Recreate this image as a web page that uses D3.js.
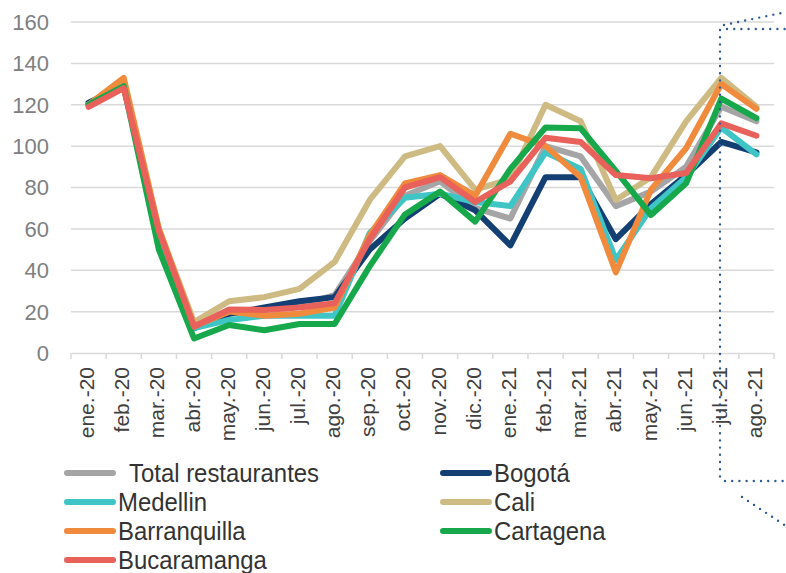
<!DOCTYPE html>
<html>
<head>
<meta charset="utf-8">
<script src="https://cdn.jsdelivr.net/npm/d3@7"></script>
<style>
  html, body { margin: 0; padding: 0; background: #fff; }
  svg { display: block; }
</style>
</head>
<body>
<svg id="chart" width="786" height="573"></svg>
<script>
// categories
var months = ["ene.-20", "feb.-20", "mar.-20", "abr.-20", "may.-20", "jun.-20", "jul.-20", "ago.-20",
  "sep.-20", "oct.-20", "nov.-20", "dic.-20", "ene.-21", "feb.-21", "mar.-21", "abr.-21",
  "may.-21", "jun.-21", "jul.-21", "ago.-21"];

// series values (index)
var total = [120, 129, 58, 12, 19, 21, 23, 28, 54, 76, 83, 70, 65, 100, 95, 71, 78, 90, 119, 112];
var bogota = [121, 129, 58, 12, 19, 22, 25, 27, 50, 65, 77, 69, 52, 85, 85, 55, 72, 86, 102, 97];
var medellin = [120, 129, 58, 12, 16, 18, 18, 18, 58, 75, 77, 73, 71, 97, 89, 45, 70, 85, 109, 96];
var cali = [120, 130, 60, 15, 25, 27, 31, 44, 74, 95, 100, 79, 84, 120, 112, 74, 85, 112, 133, 119];
var barranquilla = [120, 133, 60, 13, 20, 18, 19, 22, 57, 82, 86, 76, 106, 100, 85, 39, 79, 99, 130, 118];
var cartagena = [120, 129, 50, 7, 13.5, 11, 14, 14, 42, 67, 78, 63.5, 89, 109, 108.6, 88, 66.7, 82, 123, 113.5];
var bucaramanga = [119, 128, 59, 12.7, 21, 20.8, 22, 24, 55, 80, 85, 73, 83, 104, 102, 86, 84.5, 87, 111, 105];

var seriesNames = ["Total restaurantes", "Bogotá", "Medellin", "Cali", "Barranquilla", "Cartagena", "Bucaramanga"];
var seriesValues = [total, bogota, medellin, cali, barranquilla, cartagena, bucaramanga];
var seriesColors = ["#a5a5a5", "#143f73", "#3fc5c6", "#cdbb83", "#f08a3d", "#17a84b", "#e9615b"];

// y ticks
var yTicks = [0, 20, 40, 60, 80, 100, 120, 140, 160];

const svg = d3.select("#chart");
const plot = { left: 71, right: 774, top: 22, bottom: 353 };

const xScale = d3.scaleBand()
  .domain(months)
  .range([plot.left, plot.right]);

const yScale = d3.scaleLinear()
  .domain([0, 160])
  .range([plot.bottom, plot.top]);

// gridlines
svg.append("g")
  .selectAll("line")
  .data(yTicks.filter(d => d > 0))
  .join("line")
  .attr("x1", plot.left)
  .attr("x2", plot.right)
  .attr("y1", d => yScale(d))
  .attr("y2", d => yScale(d))
  .attr("stroke", "#d9d9d9")
  .attr("stroke-width", 1.5);

// y axis labels
svg.append("g")
  .selectAll("text")
  .data(yTicks)
  .join("text")
  .attr("x", 49)
  .attr("y", d => yScale(d))
  .attr("dy", "0.36em")
  .attr("text-anchor", "end")
  .style("font-family", "'Liberation Sans', Arial, sans-serif")
  .style("font-size", "22px")
  .style("fill", "#808080")
  .text(d => d);

// x axis
const xAxis = svg.append("g")
  .attr("transform", `translate(0, ${plot.bottom})`)
  .call(d3.axisBottom(xScale).tickSize(0).tickFormat(""));
xAxis.select(".domain").attr("stroke", "#d9d9d9").attr("stroke-width", 1.5);

svg.append("g")
  .selectAll("line")
  .data(months.concat(["end"]))
  .join("line")
  .attr("x1", (d, i) => plot.left + i * xScale.step())
  .attr("x2", (d, i) => plot.left + i * xScale.step())
  .attr("y1", plot.bottom)
  .attr("y2", plot.bottom + 6)
  .attr("stroke", "#d9d9d9")
  .attr("stroke-width", 1.5);

svg.append("g")
  .selectAll("text")
  .data(months)
  .join("text")
  .attr("transform", d => `translate(${xScale(d) + xScale.bandwidth() / 2 - 2}, 367) rotate(-90)`)
  .attr("dy", "0.36em")
  .attr("text-anchor", "end")
  .style("font-family", "'Liberation Sans', Arial, sans-serif")
  .style("font-size", "21px")
  .style("fill", "#404040")
  .text(d => d);

// lines
const line = d3.line()
  .x((d, i) => xScale(months[i]) + xScale.bandwidth() / 2)
  .y(d => yScale(d));

svg.append("g")
  .selectAll("path")
  .data(seriesValues)
  .join("path")
  .attr("d", d => line(d))
  .attr("fill", "none")
  .attr("stroke", (d, i) => seriesColors[i])
  .attr("stroke-width", 6)
  .attr("stroke-linejoin", "round")
  .attr("stroke-linecap", "round");

// legend (two columns, row-wise), narrow text like the original
const legend = svg.append("g");
const legendItems = legend.selectAll("g")
  .data(seriesNames)
  .join("g")
  .attr("transform", (d, i) => `translate(${i % 2 === 0 ? 64 : 440}, ${473 + Math.floor(i / 2) * 29})`);

legendItems.append("line")
  .attr("x1", 3).attr("x2", 49)
  .attr("y1", 0).attr("y2", 0)
  .attr("stroke", (d, i) => seriesColors[i])
  .attr("stroke-width", 6)
  .attr("stroke-linecap", "round");

legendItems.append("text")
  .attr("transform", (d, i) => `translate(${i === 0 ? 65 : 54}, 0) scale(0.92, 1)`)
  .attr("dy", "0.34em")
  .style("font-family", "'Liberation Sans', Arial, sans-serif")
  .style("font-size", "26px")
  .style("fill", "#333333")
  .text(d => d);

// dotted callout box around last months
const dots = svg.append("g")
  .attr("fill", "none")
  .attr("stroke", "#2e5b98")
  .attr("stroke-width", 2.4)
  .attr("stroke-linecap", "round")
  .attr("stroke-dasharray", "0 7.2");

dots.append("path").attr("d", "M720,30 L720,480");
dots.append("path").attr("d", "M727,29 L786,29");
dots.append("path").attr("d", "M724,25 L786,12");
dots.append("path").attr("d", "M725,481 L786,481");
dots.append("path").attr("d", "M742,497 L786,526");
</script>
</body>
</html>
